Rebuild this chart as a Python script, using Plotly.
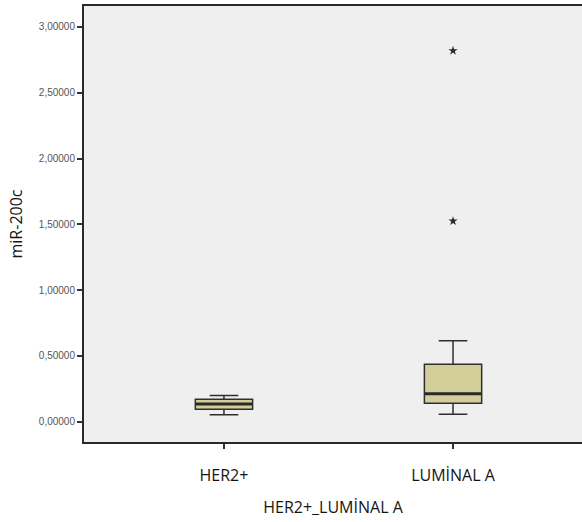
import plotly.graph_objects as go

categories = ["HER2+", "LUMİNAL A"]
lower_whisker = [0.053, 0.056]
q1 = [0.094, 0.140]
median = [0.134, 0.213]
q3 = [0.170, 0.436]
upper_whisker = [0.200, 0.615]
outlier_cat = ["LUMİNAL A", "LUMİNAL A"]
outlier_val = [2.819, 1.525]
y_ticks = [0, 0.5, 1.0, 1.5, 2.0, 2.5, 3.0]

xpos = list(range(len(categories)))
cat_index = {c: i for i, c in enumerate(categories)}
box_w = 0.25

fig = go.Figure()
fig.add_trace(go.Box(
    x=xpos, q1=q1, median=median, q3=q3,
    lowerfence=lower_whisker, upperfence=upper_whisker,
    width=box_w, whiskerwidth=0.5,
    fillcolor="#D4CF9A", line=dict(color="#2f2f2f", width=1.5),
    boxpoints=False, showlegend=False, hoverinfo="skip",
))
# thicker median lines
for i, m in zip(xpos, median):
    fig.add_trace(go.Scatter(
        x=[i - box_w / 2, i + box_w / 2], y=[m, m], mode="lines",
        line=dict(color="#2a2a2a", width=3), showlegend=False, hoverinfo="skip",
    ))
fig.add_trace(go.Scatter(
    x=[cat_index[c] for c in outlier_cat], y=outlier_val, mode="markers",
    marker=dict(symbol="star", size=7, color="#2a2a2a"),
    showlegend=False, hoverinfo="skip",
))

fig.update_layout(
    width=582, height=522,
    margin=dict(l=84, r=0, t=6, b=80),
    paper_bgcolor="white", plot_bgcolor="#EFEFEF",
    separators=",.",
    xaxis=dict(
        range=[-0.611, 1.563], tickmode="array", tickvals=xpos, ticktext=categories,
        showgrid=False, zeroline=False, showline=True, mirror=True,
        linecolor="#2a2a2a", linewidth=2, ticks="outside", ticklen=5,
        tickcolor="#333333", tickwidth=1.5,
        tickfont=dict(family="Open Sans", size=16, color="#151515"),
        ticklabelstandoff=13,
        title=dict(text="HER2+_LUMİNAL A", font=dict(family="Open Sans", size=16, color="#151515"), standoff=17),
    ),
    yaxis=dict(
        range=[-0.154, 3.159], tickmode="array", tickvals=y_ticks, tickformat=".5f",
        showgrid=False, zeroline=False, showline=True, mirror=False,
        linecolor="#2a2a2a", linewidth=2, ticks="outside", ticklen=5,
        tickcolor="#333333", tickwidth=1.5,
        tickfont=dict(family="Liberation Sans", size=10, color="#555555"),
        title=dict(text="miR-200c", font=dict(family="Open Sans", size=16, color="#151515"), standoff=12),
    ),
)

fig.write_html("out.html")
